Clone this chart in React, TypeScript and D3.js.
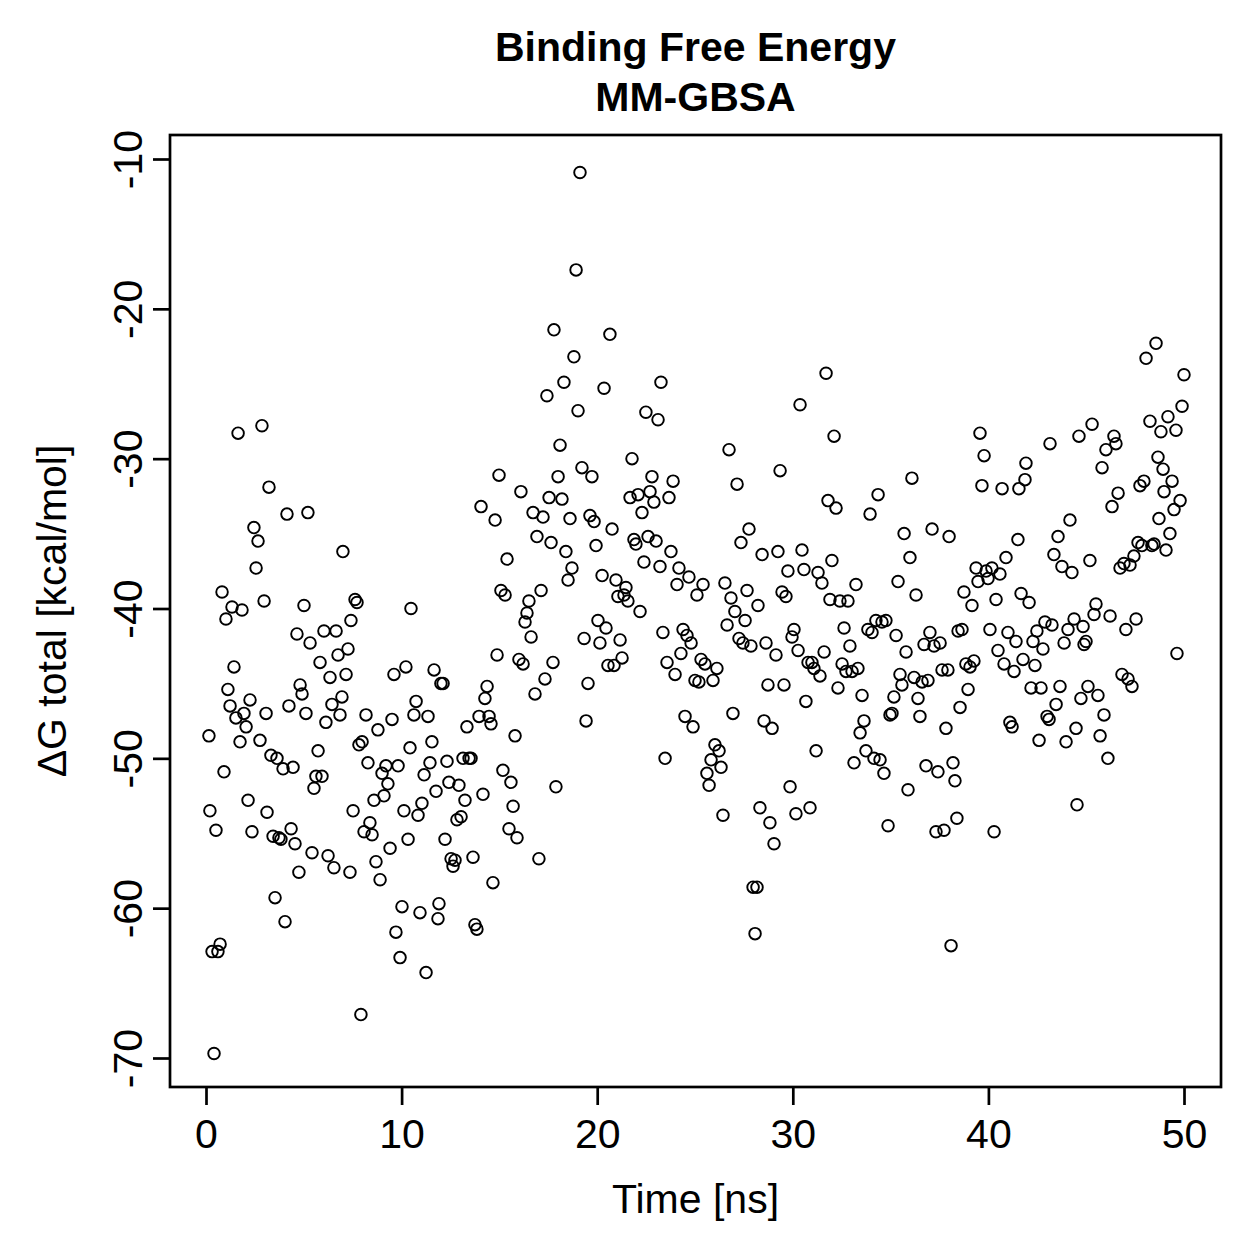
import { useEffect, useRef } from "react";
import * as d3 from "d3";

// values (time in ns, ΔG total in kcal/mol)
const timeNs = [
  0.15, 0.2, 0.31, 0.41, 0.51, 0.61, 0.72, 0.82, 0.92, 1.02, 1.12, 1.23, 1.33, 1.43, 1.53, 1.64, 1.74, 1.84, 1.94, 2.05,
  2.15, 2.25, 2.35, 2.45, 2.56, 2.66, 2.76, 2.86, 2.97, 3.07, 3.12, 3.22, 3.32, 3.43, 3.53, 3.63, 3.73, 3.83, 3.94, 4.04,
  4.14, 4.24, 4.35, 4.45, 4.55, 4.65, 4.75, 4.81, 4.91, 5.01, 5.11, 5.21, 5.32, 5.42, 5.52, 5.62, 5.73, 5.83, 5.93, 6.03,
  6.13, 6.24, 6.34, 6.44, 6.54, 6.65, 6.75, 6.85, 6.95, 7.0, 7.16, 7.26, 7.36, 7.41, 7.52, 7.62, 7.72, 7.82, 7.92, 7.98,
  8.08, 8.18, 8.28, 8.38, 8.49, 8.59, 8.69, 8.79, 8.9, 9.0, 9.1, 9.2, 9.3, 9.41, 9.51, 9.61, 9.71, 9.82, 9.92, 10.02,
  10.12, 10.22, 10.33, 10.43, 10.48, 10.63, 10.74, 10.84, 10.94, 11.04, 11.15, 11.25, 11.35, 11.45, 11.55, 11.66, 11.76, 11.86, 11.91, 12.01,
  12.12, 12.22, 12.32, 12.42, 12.53, 12.63, 12.73, 12.83, 12.93, 13.04, 13.14, 13.24, 13.34, 13.45, 13.55, 13.65, 13.75, 13.85, 13.96, 14.06,
  14.16, 14.26, 14.37, 14.47, 14.57, 14.67, 14.78, 14.88, 14.98, 15.08, 15.18, 15.29, 15.39, 15.49, 15.59, 15.7, 15.8, 15.9, 16.0, 16.1,
  16.21, 16.31, 16.41, 16.51, 16.62, 16.72, 16.82, 16.92, 17.02, 17.13, 17.23, 17.33, 17.43, 17.54, 17.64, 17.74, 17.79, 17.89, 18.0, 18.1,
  18.2, 18.3, 18.4, 18.51, 18.61, 18.71, 18.81, 18.92, 19.02, 19.12, 19.22, 19.33, 19.43, 19.53, 19.63, 19.73, 19.84, 19.94, 20.04, 20.14,
  20.25, 20.35, 20.45, 20.55, 20.65, 20.76, 20.86, 20.96, 21.06, 21.17, 21.27, 21.37, 21.47, 21.57, 21.68, 21.78, 21.88, 21.98, 22.09, 22.19,
  22.29, 22.39, 22.49, 22.6, 22.7, 22.8, 22.9, 23.01, 23.11, 23.21, 23.26, 23.36, 23.47, 23.57, 23.67, 23.77, 23.88, 23.98, 24.08, 24.18,
  24.28, 24.39, 24.49, 24.59, 24.69, 24.8, 24.9, 25.0, 25.1, 25.2, 25.31, 25.41, 25.51, 25.61, 25.72, 25.82, 25.92, 26.02, 26.12, 26.23,
  26.33, 26.43, 26.53, 26.64, 26.74, 26.84, 26.94, 27.04, 27.15, 27.25, 27.35, 27.45, 27.56, 27.66, 27.76, 27.86, 27.97, 28.07, 28.17, 28.22,
  28.32, 28.43, 28.53, 28.63, 28.73, 28.83, 28.94, 29.04, 29.14, 29.24, 29.35, 29.45, 29.55, 29.65, 29.75, 29.86, 29.96, 30.06, 30.16, 30.27,
  30.37, 30.47, 30.57, 30.67, 30.78, 30.88, 30.98, 31.08, 31.19, 31.29, 31.39, 31.49, 31.6, 31.7, 31.8, 31.9, 32.0, 32.11, 32.21, 32.31,
  32.41, 32.52, 32.62, 32.72, 32.82, 32.92, 33.03, 33.13, 33.23, 33.33, 33.44, 33.54, 33.64, 33.74, 33.84, 33.95, 34.05, 34.15, 34.25, 34.36,
  34.46, 34.56, 34.66, 34.76, 34.87, 34.97, 35.07, 35.17, 35.28, 35.38, 35.48, 35.58, 35.69, 35.79, 35.89, 35.99, 36.09, 36.2, 36.3, 36.4,
  36.5, 36.61, 36.71, 36.81, 36.91, 37.01, 37.12, 37.22, 37.32, 37.42, 37.53, 37.63, 37.73, 37.83, 37.93, 37.99, 38.09, 38.19, 38.29, 38.39,
  38.45, 38.55, 38.65, 38.75, 38.85, 38.96, 39.06, 39.16, 39.26, 39.37, 39.47, 39.57, 39.67, 39.78, 39.88, 39.98, 40.08, 40.18, 40.29, 40.39,
  40.49, 40.59, 40.7, 40.8, 40.9, 41.0, 41.1, 41.21, 41.31, 41.41, 41.51, 41.56, 41.67, 41.77, 41.87, 41.92, 42.08, 42.18, 42.28, 42.38,
  42.48, 42.59, 42.69, 42.79, 42.89, 43.0, 43.1, 43.15, 43.25, 43.35, 43.46, 43.56, 43.66, 43.76, 43.87, 43.97, 44.07, 44.17, 44.27, 44.38,
  44.48, 44.53, 44.63, 44.73, 44.84, 44.89, 44.99, 45.09, 45.19, 45.3, 45.4, 45.5, 45.6, 45.71, 45.81, 45.91, 46.01, 46.11, 46.22, 46.32,
  46.42, 46.52, 46.63, 46.73, 46.83, 46.93, 47.03, 47.14, 47.24, 47.34, 47.44, 47.55, 47.65, 47.75, 47.85, 47.95, 48.06, 48.26, 48.36, 48.47,
  48.57, 48.67, 48.72, 48.82, 48.93, 48.98, 49.08, 49.18, 49.28, 49.39, 49.49, 49.59, 49.64, 49.8, 49.9, 50.0,
];

const deltaG = [
  -48.5, -53.5, -62.9, -69.7, -54.8, -62.9, -62.4, -38.9, -50.9, -40.7, -45.4, -46.5, -39.9, -43.9, -47.3, -28.3, -48.9, -40.1, -47.0, -47.9,
  -52.8, -46.1, -54.9, -34.6, -37.3, -35.5, -48.8, -27.8, -39.5, -47.0, -53.6, -31.9, -49.8, -55.2, -59.3, -50.0, -55.3, -55.4, -50.7, -60.9,
  -33.7, -46.5, -54.7, -50.6, -55.7, -41.7, -57.6, -45.1, -45.7, -39.8, -47.0, -33.6, -42.3, -56.3, -52.0, -51.2, -49.5, -43.6, -51.2, -41.5,
  -47.6, -56.5, -44.6, -46.4, -57.3, -41.5, -43.1, -47.1, -45.9, -36.2, -44.4, -42.7, -57.6, -40.8, -53.5, -39.4, -39.6, -49.1, -67.1, -48.9,
  -54.9, -47.1, -50.3, -54.3, -55.1, -52.8, -56.9, -48.1, -58.1, -51.0, -52.5, -50.5, -51.7, -56.0, -47.4, -44.4, -61.6, -50.5, -63.3, -59.9,
  -53.5, -43.9, -55.4, -49.3, -40.0, -47.1, -46.2, -53.8, -60.3, -53.0, -51.1, -64.3, -47.2, -50.3, -48.9, -44.1, -52.2, -60.7, -59.7, -45.0,
  -45.0, -55.4, -50.2, -51.6, -56.7, -57.2, -56.8, -54.1, -51.8, -53.9, -50.0, -52.8, -47.9, -50.0, -50.0, -56.6, -61.1, -61.4, -47.2, -33.2,
  -52.4, -46.0, -45.2, -47.2, -47.7, -58.3, -34.1, -43.1, -31.1, -38.8, -50.8, -39.1, -36.7, -54.7, -51.6, -53.2, -48.5, -55.3, -43.4, -32.2,
  -43.7, -40.9, -40.3, -39.5, -41.9, -33.6, -45.7, -35.2, -56.7, -38.8, -33.9, -44.7, -25.8, -32.6, -35.6, -43.6, -21.4, -51.9, -31.2, -29.1,
  -32.7, -24.9, -36.2, -38.1, -34.0, -37.3, -23.2, -17.4, -26.8, -10.9, -30.6, -42.0, -47.5, -45.0, -33.8, -31.2, -34.2, -35.8, -40.8, -42.3,
  -37.8, -25.3, -41.3, -43.8, -21.7, -34.7, -43.8, -38.1, -39.2, -42.1, -43.3, -39.1, -38.6, -39.5, -32.6, -30.0, -35.4, -35.7, -32.4, -40.2,
  -33.6, -36.9, -26.9, -35.2, -32.2, -31.2, -32.9, -35.5, -27.4, -37.2, -24.9, -41.6, -50.0, -43.6, -32.6, -36.2, -31.5, -44.4, -38.4, -37.3,
  -43.0, -41.4, -47.2, -41.8, -37.9, -42.3, -47.9, -44.8, -39.1, -44.9, -43.4, -38.4, -43.7, -51.0, -51.8, -50.1, -44.8, -49.1, -44.0, -49.5,
  -50.6, -53.8, -38.3, -41.1, -29.4, -39.3, -47.0, -40.2, -31.7, -42.0, -35.6, -42.3, -40.8, -38.8, -34.7, -42.5, -58.6, -61.7, -58.6, -39.8,
  -53.3, -36.4, -47.5, -42.3, -45.1, -54.3, -48.0, -55.7, -43.1, -36.2, -30.8, -38.9, -45.1, -39.2, -37.5, -51.9, -41.9, -41.4, -53.7, -42.8,
  -26.4, -36.1, -37.4, -46.2, -43.6, -53.3, -43.6, -44.0, -49.5, -37.6, -44.5, -38.3, -42.9, -24.3, -32.8, -39.4, -36.8, -28.5, -33.3, -45.3,
  -39.5, -43.7, -41.3, -44.2, -39.5, -42.5, -44.2, -50.3, -38.4, -44.0, -48.3, -45.8, -47.5, -49.5, -41.4, -33.7, -41.6, -50.0, -40.8, -32.4,
  -50.1, -40.9, -51.0, -40.8, -54.5, -47.1, -47.0, -45.9, -41.8, -38.2, -44.4, -45.1, -35.0, -42.9, -52.1, -36.6, -31.3, -44.6, -39.1, -46.0,
  -47.2, -44.9, -42.4, -50.5, -44.8, -41.6, -34.7, -42.5, -54.9, -50.9, -42.3, -44.1, -54.8, -48.0, -44.1, -35.2, -62.5, -50.3, -51.5, -54.0,
  -41.5, -46.6, -41.4, -38.9, -43.7, -45.4, -43.9, -39.8, -43.5, -37.3, -38.2, -28.3, -31.8, -29.8, -37.5, -38.0, -41.4, -37.3, -54.9, -39.4,
  -42.8, -37.7, -32.0, -43.7, -36.6, -41.6, -47.6, -47.9, -44.2, -42.2, -35.4, -32.0, -39.0, -43.4, -31.4, -30.3, -39.6, -45.3, -42.2, -43.8,
  -41.5, -48.8, -45.3, -42.7, -40.9, -47.2, -47.4, -29.0, -41.1, -36.4, -46.4, -35.2, -45.2, -37.2, -42.3, -48.9, -41.4, -34.1, -37.6, -40.7,
  -48.0, -53.1, -28.5, -46.0, -41.2, -42.4, -42.2, -45.2, -36.8, -27.7, -40.4, -39.7, -45.8, -48.5, -30.6, -47.1, -29.4, -50.0, -40.5, -33.2,
  -28.5, -29.0, -32.3, -37.3, -44.4, -37.0, -41.4, -44.7, -37.1, -45.2, -36.5, -40.7, -35.6, -31.8, -35.8, -31.5, -23.3, -27.5, -35.8, -35.7,
  -22.3, -29.9, -34.0, -28.2, -30.7, -32.2, -36.1, -27.2, -35.0, -31.5, -33.4, -28.1, -43.0, -32.8, -26.5, -24.4,
];

const xTicks = [0, 10, 20, 30, 40, 50];
const yTicks = [-10, -20, -30, -40, -50, -60, -70];

const titleLines = ["Binding Free Energy", "MM-GBSA"];
const xLabel = "Time [ns]";
const yLabel = "\u0394G total [kcal/mol]";

const FONT = "'Liberation Sans', Arial, Helvetica, sans-serif";

export default function App() {
  const ref = useRef<SVGSVGElement | null>(null);

  useEffect(() => {
    const width = 1259;
    const height = 1259;
    const box = { left: 170, top: 135, right: 1221, bottom: 1087 };

    const svg = d3.select(ref.current).attr("width", width).attr("height", height);
    svg.selectAll("*").remove();

    const x = d3.scaleLinear().domain([0, 50]).range([206, 1184]);
    const y = d3.scaleLinear().domain([-70, -10]).range([1058, 159]);

    svg.append("rect").attr("width", width).attr("height", height).attr("fill", "white");

    // points
    const pts = d3.zip(timeNs, deltaG);
    svg
      .append("g")
      .selectAll("circle")
      .data(pts)
      .join("circle")
      .attr("cx", (d) => x(d[0]))
      .attr("cy", (d) => y(d[1]))
      .attr("r", 5.8)
      .attr("fill", "none")
      .attr("stroke", "black")
      .attr("stroke-width", 1.9);

    // x axis
    const gx = svg
      .append("g")
      .attr("transform", `translate(0,${box.bottom})`)
      .call(
        d3
          .axisBottom(x)
          .tickValues(xTicks)
          .tickSize(18)
          .tickSizeOuter(0)
          .tickFormat((d) => String(d))
      );
    gx.select(".domain").remove();
    gx.selectAll("line").attr("stroke-width", 2.7);
    gx.selectAll("text")
      .attr("y", 61)
      .attr("dy", 0)
      .attr("font-size", 41)
      .attr("font-family", FONT)
      .attr("fill", "black");

    // y axis
    const gy = svg
      .append("g")
      .attr("transform", `translate(${box.left},0)`)
      .call(
        d3
          .axisLeft(y)
          .tickValues(yTicks)
          .tickSize(17)
          .tickSizeOuter(0)
          .tickFormat((d) => String(d))
      );
    gy.select(".domain").remove();
    gy.selectAll("line").attr("stroke-width", 2.7);
    gy.selectAll("text")
      .attr("x", 0)
      .attr("y", -28)
      .attr("dy", 0)
      .attr("transform", "rotate(-90)")
      .attr("text-anchor", "middle")
      .attr("font-size", 41)
      .attr("font-family", FONT)
      .attr("fill", "black");

    // frame
    svg
      .append("rect")
      .attr("x", box.left)
      .attr("y", box.top)
      .attr("width", box.right - box.left)
      .attr("height", box.bottom - box.top)
      .attr("fill", "none")
      .attr("stroke", "black")
      .attr("stroke-width", 2.7);

    const cx = (box.left + box.right) / 2;
    const cy = (box.top + box.bottom) / 2;

    // titles
    titleLines.forEach((t, i) => {
      svg
        .append("text")
        .attr("x", cx)
        .attr("y", 61 + i * 50)
        .attr("text-anchor", "middle")
        .attr("font-size", 41)
        .attr("font-weight", "bold")
        .attr("font-family", FONT)
        .text(t);
    });

    svg
      .append("text")
      .attr("x", cx)
      .attr("y", 1213)
      .attr("text-anchor", "middle")
      .attr("font-size", 41)
      .attr("font-family", FONT)
      .text(xLabel);

    svg
      .append("text")
      .attr("transform", `translate(66,${cy}) rotate(-90)`)
      .attr("text-anchor", "middle")
      .attr("font-size", 41)
      .attr("font-family", FONT)
      .text(yLabel);
  }, []);

  return (
    <div style={{ position: "absolute", left: 0, top: 0 }}>
      <svg ref={ref} style={{ display: "block" }}></svg>
    </div>
  );
}
